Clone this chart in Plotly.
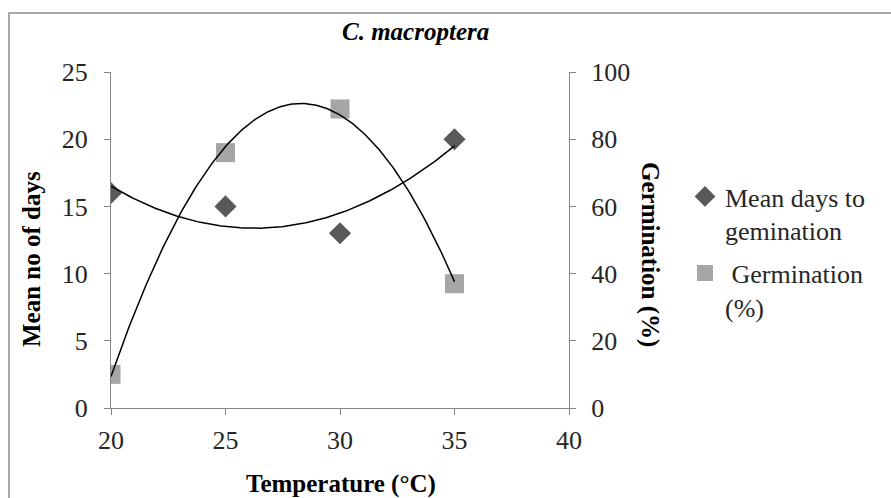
import numpy as np
import plotly.graph_objects as go

# ---- data ----
temperature = [20, 25, 30, 35]
mean_days = [16, 15, 13, 20]
germination = [10, 76, 89, 37]

x_ticks = [20, 25, 30, 35, 40]
y_ticks = [0, 5, 10, 15, 20, 25]
y2_ticks = [0, 20, 40, 60, 80, 100]

# ---- geometry helpers (pixel -> paper) ----
W, H = 891, 498
L, R, T, B = 111, 569, 72, 408


def px(x):
    return (x - L) / (R - L)


def py(y):
    return (B - y) / (B - T)


FONT = "Liberation Serif"
TXT = "#262626"
AX = "#868686"

# polynomial (order 2) trendlines, as in the spreadsheet chart
xs = np.linspace(min(temperature), max(temperature), 200)
fit_days = np.polyval(np.polyfit(temperature, mean_days, 2), xs)
fit_germ = np.polyval(np.polyfit(temperature, germination, 2), xs)

fig = go.Figure()
fig.add_trace(go.Scatter(
    x=temperature, y=mean_days, mode="markers",
    name="Mean days to<br>gemination", legendgroup="a",
    marker=dict(symbol="diamond", size=17, color="#595959"),
))
fig.add_trace(go.Scatter(
    x=temperature, y=germination, mode="markers", yaxis="y2",
    name="\u00a0Germination<br>(%)", legendgroup="b",
    marker=dict(symbol="square", size=19, color="#a6a6a6"),
))
fig.add_trace(go.Scatter(
    x=xs, y=fit_days, mode="lines", showlegend=False, legendgroup="a",
    line=dict(color="black", width=1.5), hoverinfo="skip",
))
fig.add_trace(go.Scatter(
    x=xs, y=fit_germ, mode="lines", yaxis="y2", showlegend=False, legendgroup="b",
    line=dict(color="black", width=1.5), hoverinfo="skip",
))

axis_common = dict(
    showgrid=False, zeroline=False, showline=True, linecolor=AX, linewidth=1,
    ticks="outside", ticklen=6, tickcolor=AX, tickwidth=1,
    tickfont=dict(family=FONT, size=26, color=TXT),
)

fig.update_layout(
    width=W, height=H,
    margin=dict(l=L, r=W - R, t=T, b=H - B),
    paper_bgcolor="white", plot_bgcolor="white",
    showlegend=True,
    font=dict(family=FONT),
    xaxis=dict(range=[20, 40], tickvals=x_ticks, ticklabelstandoff=3, **axis_common),
    yaxis=dict(range=[0, 25], tickvals=y_ticks, ticklabelstandoff=11, **axis_common),
    yaxis2=dict(range=[0, 100], tickvals=y2_ticks, overlaying="y", side="right",
                ticklabelstandoff=10, **axis_common),
    legend=dict(
        x=px(685), y=py(173), xanchor="left", yanchor="top",
        font=dict(family=FONT, size=26, color=TXT),
        valign="top", itemwidth=30, bgcolor="rgba(0,0,0,0)",
        tracegroupgap=6,
    ),
    shapes=[dict(
        type="rect", xref="paper", yref="paper",
        x0=px(9), x1=px(900), y0=py(510), y1=py(13),
        line=dict(color="#8c8c8c", width=1.5), layer="below",
    )],
    annotations=[
        dict(text="<b><i>C. macroptera</i></b>", xref="paper", yref="paper",
             x=px(415), y=py(32), showarrow=False, xanchor="center", yanchor="middle",
             font=dict(family=FONT, size=25, color="black")),
        dict(text="<b>Temperature (°C)</b>", xref="paper", yref="paper",
             x=px(341), y=py(484), showarrow=False, xanchor="center", yanchor="middle",
             font=dict(family=FONT, size=25, color="black")),
        dict(text="<b>Mean no of days</b>", xref="paper", yref="paper",
             x=px(31), y=py(259), showarrow=False, xanchor="center", yanchor="middle",
             textangle=-90, font=dict(family=FONT, size=25, color="black")),
        dict(text="<b>Germination (%)</b>", xref="paper", yref="paper",
             x=px(650), y=py(254), showarrow=False, xanchor="center", yanchor="middle",
             textangle=90, font=dict(family=FONT, size=25, color="black")),
    ],
)

fig.write_html("out.html")
